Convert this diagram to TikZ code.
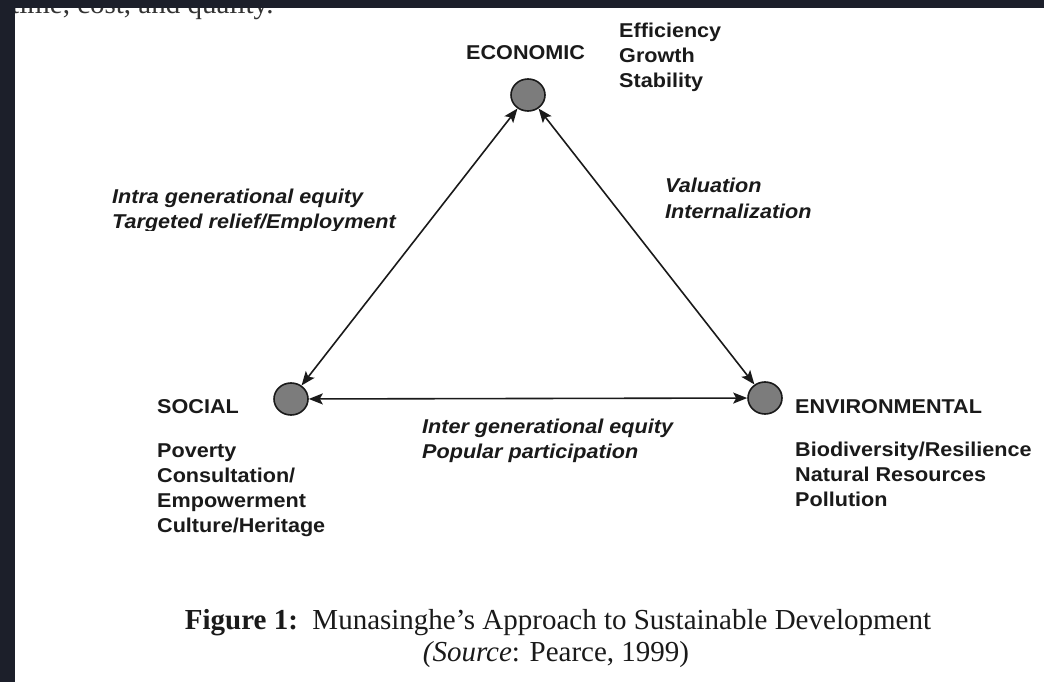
\documentclass[tikz,border=0pt]{standalone}
\usepackage{fontspec}
\setmainfont{Liberation Serif}
\newfontfamily\labfont{Liberation Sans}[FakeStretch=1.08]
\usetikzlibrary{arrows.meta,shapes.geometric}
\definecolor{frame}{HTML}{1C1F2A}
\definecolor{ink}{HTML}{1A1A1A}
\definecolor{dot}{HTML}{7C7C7C}
\newcommand{\mystack}[1]{\begin{tabular}[t]{@{}l@{}}#1\end{tabular}}
\tikzset{
 hub/.style={ellipse, draw=ink, line width=1.6pt, fill=dot, minimum width=34pt, minimum height=32pt, inner sep=0pt},
 link/.style={line width=1.6pt, draw=ink, {Stealth[length=14pt,width=11pt,inset=3pt]}-{Stealth[length=14pt,width=11pt,inset=3pt]}},
 txt/.style={anchor=base west, inner sep=0pt, text=ink, font=\labfont\fontsize{20}{25}\selectfont\bfseries},
 itx/.style={anchor=base west, inner sep=0pt, text=ink, font=\labfont\fontsize{20}{25}\selectfont\bfseries\itshape},
 captext/.style={anchor=base, inner sep=0pt, text=ink, font=\fontsize{29}{32}\selectfont},
}
\begin{document}
\begin{tikzpicture}[x=1pt,y=-1pt]
\useasboundingbox (0,0) rectangle (1044,682);
\fill[white] (0,0) rectangle (1044,682);
% cut-off text at the top
\node[anchor=base west, inner sep=0pt, text=black!80, font=\fontsize{29}{32}\selectfont] (top) at (11,14) {time, cost, and quality.};
% hubs
\node[hub] (eco) at (528,95) {};
\node[hub] (soc) at (291,399) {};
\node[hub] (env) at (765,398) {};
\draw[link] (eco) -- (soc);
\draw[link] (eco) -- (env);
\draw[link] (soc) -- (env);
% labels
\node[txt] (ecot) at (466,60) {ECONOMIC};
\node[txt] (ecol) at (619,38) {\mystack{Efficiency\\Growth\\Stability}};
\begin{scope}
\clip (100,170) rectangle (420,230);
\node[itx] (intra) at (112,203) {\mystack{Intra generational equity\\Targeted relief/Employment}};
\end{scope}
\node[itx] (val) at (665,193) {\mystack{Valuation\\Internalization}};
\node[txt] (soct) at (157,413) {SOCIAL};
\node[txt] (socl) at (157,457) {\mystack{Poverty\\Consultation/\\Empowerment\\Culture/Heritage}};
\node[itx] (inter) at (422,433) {\mystack{Inter generational equity\\Popular participation}};
\node[txt] (envt) at (795,413) {ENVIRONMENTAL};
\node[txt] (envl) at (795,456) {\mystack{Biodiversity/Resilience\\Natural Resources\\Pollution}};
% caption
\node[captext] (cap1) at (558,629) {\textbf{Figure 1:}\ \ Munasinghe’s Approach to Sustainable Development};
\node[captext] (cap2) at (556,661) {\textit{(Source}: Pearce, 1999)};
% dark frame
\fill[frame] (0,0) rectangle (1044,8);
\fill[frame] (0,0) rectangle (15,682);
\end{tikzpicture}
\end{document}
